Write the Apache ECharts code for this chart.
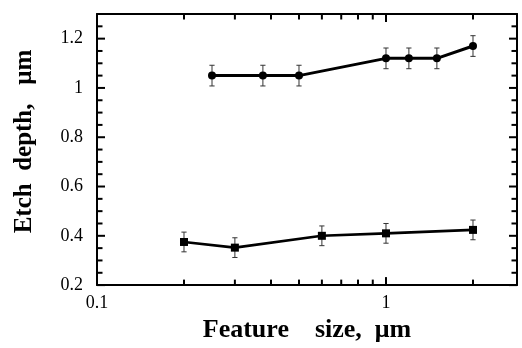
<!DOCTYPE html>
<html>
<head>
<meta charset="utf-8">
<script src="https://cdn.jsdelivr.net/npm/echarts@6/dist/echarts.min.js"></script>
<style>html,body{margin:0;padding:0;background:#fff;}#c{width:522px;height:348px;}</style>
</head>
<body>
<div id="c"></div>
<script>
// ---- data ----
const upperX = [0.25, 0.375, 0.5, 1, 1.2, 1.5, 2];
const upperY = [1.05, 1.05, 1.05, 1.12, 1.12, 1.12, 1.17];
const upperErr = [0.042, 0.042, 0.042, 0.042, 0.042, 0.042, 0.042];
const lowerX = [0.2, 0.3, 0.6, 1, 2];
const lowerY = [0.375, 0.352, 0.40, 0.41, 0.424];
const lowerErr = [0.04, 0.04, 0.04, 0.04, 0.04];
// ---- axes ----
const xMin = 0.1, xMax = 2.84;
const yMin = 0.2, yMax = 1.3;
const xMajorTicks = [0.1, 1];
const xMinorTicks = [0.2, 0.3, 0.4, 0.5, 0.6, 0.7, 0.8, 0.9, 2];
const yMajorTicks = [0.2, 0.4, 0.6, 0.8, 1.0, 1.2];
const yMinorTicks = [0.25, 0.3, 0.35, 0.45, 0.5, 0.55, 0.65, 0.7, 0.75, 0.85, 0.9, 0.95, 1.05, 1.1, 1.15, 1.25];
const xTitle = 'Feature    size,  \u03bcm';
const yTitle = 'Etch  depth,   \u03bcm';

const serif = 'Liberation Serif, Times New Roman, serif';
const chart = echarts.init(document.getElementById('c'), null, {renderer: 'canvas'});

function zip(xs, ys) { return xs.map((x, i) => [x, ys[i]]); }
function zip3(xs, ys, es) { return xs.map((x, i) => [x, ys[i], es[i]]); }

function errRender(params, api) {
  const x = api.value(0), y = api.value(1), e = api.value(2);
  const t = api.coord([x, y + e]);
  const b = api.coord([x, y - e]);
  const w = 2.6;
  return {type: 'group', children: [
    {type: 'line', shape: {x1: t[0], y1: t[1], x2: b[0], y2: b[1]}, style: {stroke: '#333', lineWidth: 1}},
    {type: 'line', shape: {x1: t[0] - w, y1: t[1], x2: t[0] + w, y2: t[1]}, style: {stroke: '#333', lineWidth: 1}},
    {type: 'line', shape: {x1: b[0] - w, y1: b[1], x2: b[0] + w, y2: b[1]}, style: {stroke: '#333', lineWidth: 1}}
  ]};
}
function makeXTick(len) {
  return function (params, api) {
    const v = api.value(0);
    const b = api.coord([v, yMin]);
    const t = api.coord([v, yMax]);
    return {type: 'group', children: [
      {type: 'line', shape: {x1: b[0], y1: b[1], x2: b[0], y2: b[1] - len}, style: {stroke: '#000', lineWidth: 2}},
      {type: 'line', shape: {x1: t[0], y1: t[1], x2: t[0], y2: t[1] + len}, style: {stroke: '#000', lineWidth: 2}}
    ]};
  };
}
function makeYTick(len) {
  return function (params, api) {
    const v = api.value(1);
    const l = api.coord([xMin, v]);
    const r = api.coord([xMax, v]);
    return {type: 'group', children: [
      {type: 'line', shape: {x1: l[0], y1: l[1], x2: l[0] + len, y2: l[1]}, style: {stroke: '#000', lineWidth: 2}},
      {type: 'line', shape: {x1: r[0], y1: r[1], x2: r[0] - len, y2: r[1]}, style: {stroke: '#000', lineWidth: 2}}
    ]};
  };
}

chart.setOption({
  animation: false,
  backgroundColor: '#fff',
  grid: {left: 97, right: 5, top: 14, bottom: 61},
  xAxis: [
    {type: 'log', logBase: 10, min: xMin, max: xMax, position: 'bottom',
     axisLine: {lineStyle: {color: '#000', width: 2}},
     axisTick: {show: false},
     axisLabel: {customValues: xMajorTicks, color: '#000', fontFamily: serif, fontSize: 18, margin: 9},
     splitLine: {show: false},
     name: xTitle, nameLocation: 'middle', nameGap: 16,
     nameTextStyle: {color: '#000', fontFamily: serif, fontSize: 26, fontWeight: 'bold'}},
    {type: 'log', logBase: 10, min: xMin, max: xMax, position: 'top',
     axisLine: {lineStyle: {color: '#000', width: 2}},
     axisTick: {show: false}, axisLabel: {show: false}, splitLine: {show: false}}
  ],
  yAxis: [
    {type: 'value', min: yMin, max: yMax, interval: 0.2, position: 'left',
     axisLine: {show: true, lineStyle: {color: '#000', width: 2}},
     axisTick: {show: false},
     axisLabel: {customValues: yMajorTicks, color: '#000', fontFamily: serif, fontSize: 18, margin: 14},
     splitLine: {show: false},
     name: yTitle, nameLocation: 'middle', nameGap: 60,
     nameTextStyle: {color: '#000', fontFamily: serif, fontSize: 25, fontWeight: 'bold', padding: [0, 0, 0, 16]}},
    {type: 'value', min: yMin, max: yMax, interval: 0.2, position: 'right',
     axisLine: {show: true, lineStyle: {color: '#000', width: 2}},
     axisTick: {show: false}, axisLabel: {show: false}, splitLine: {show: false}}
  ],
  series: [
    {type: 'custom', z: 10, silent: true, data: xMajorTicks.map(v => [v, 0.5]), renderItem: makeXTick(8)},
    {type: 'custom', z: 10, silent: true, data: xMinorTicks.map(v => [v, 0.5]), renderItem: makeXTick(5.5)},
    {type: 'custom', z: 10, silent: true, data: yMajorTicks.map(v => [0.5, v]), renderItem: makeYTick(8)},
    {type: 'custom', z: 10, silent: true, data: yMinorTicks.map(v => [0.5, v]), renderItem: makeYTick(5.5)},
    {type: 'custom', silent: true, data: zip3(upperX, upperY, upperErr), renderItem: errRender},
    {type: 'custom', silent: true, data: zip3(lowerX, lowerY, lowerErr), renderItem: errRender},
    {type: 'line', data: zip(upperX, upperY), symbol: 'circle', symbolSize: 8,
     lineStyle: {color: '#000', width: 3}, itemStyle: {color: '#000'}},
    {type: 'line', data: zip(lowerX, lowerY), symbol: 'rect', symbolSize: 8,
     lineStyle: {color: '#000', width: 2.6}, itemStyle: {color: '#000'}}
  ]
});
</script>
</body>
</html>
